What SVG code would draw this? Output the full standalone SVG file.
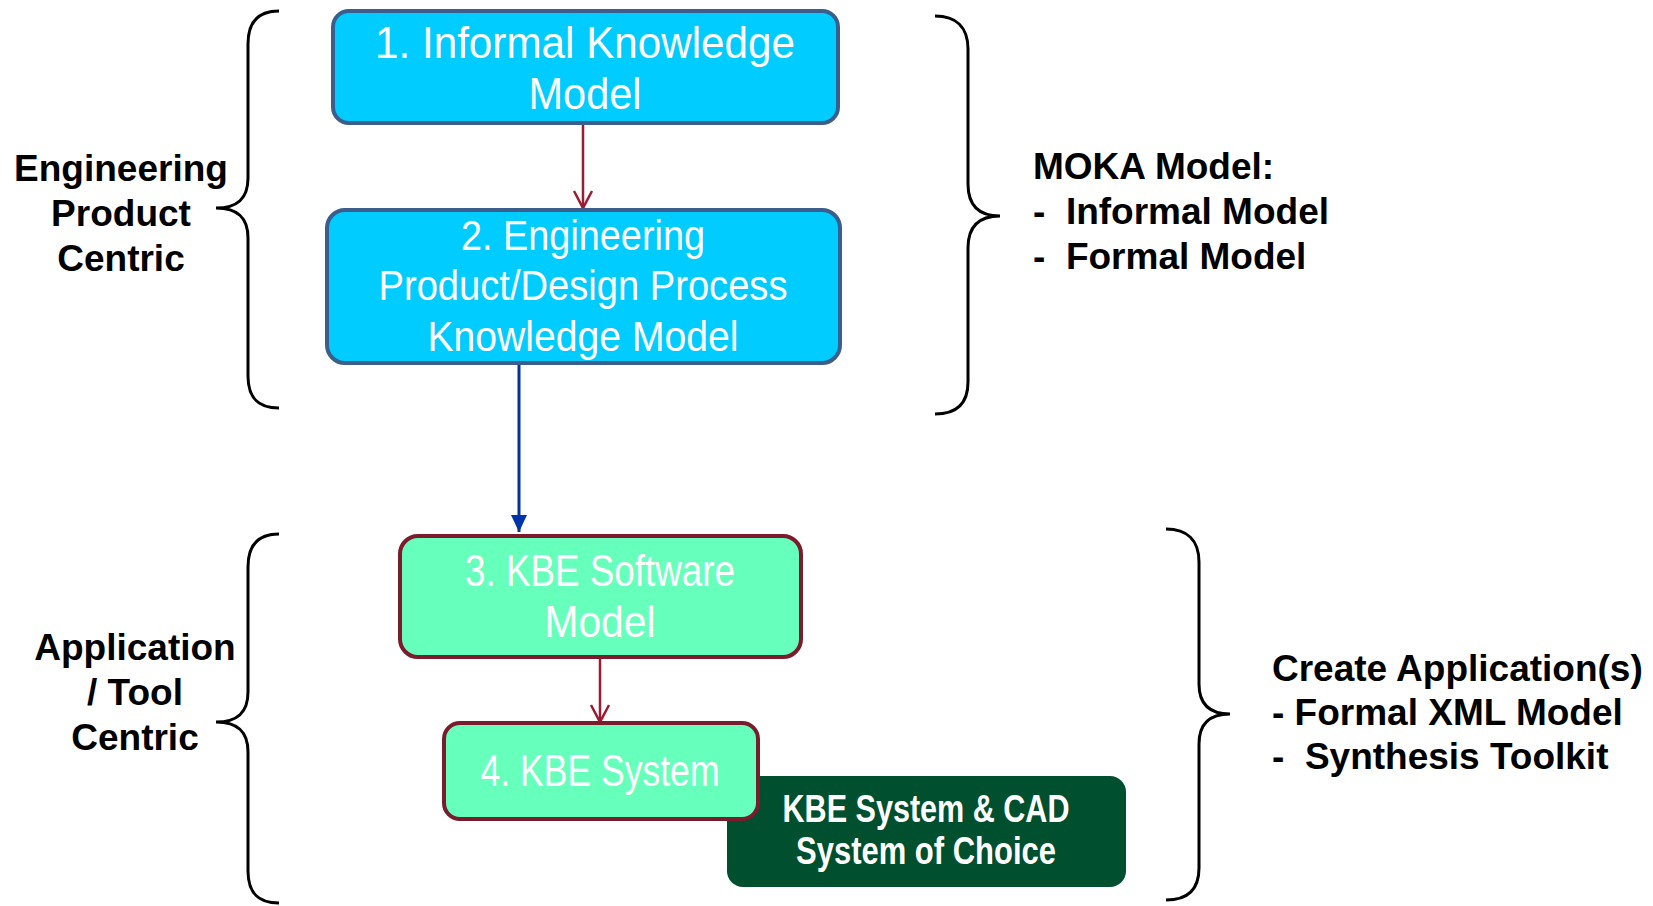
<svg xmlns="http://www.w3.org/2000/svg" width="1653" height="906" viewBox="0 0 1653 906">
<style>
.blue{fill:#00CCFF;stroke:#3B5E8C;stroke-width:4}
.mint{fill:#66FFBB;stroke:#7A1C2C;stroke-width:4}
.dark{fill:#004F2F}
.bt{font-family:"Liberation Sans",Arial,sans-serif;fill:#fff;text-anchor:middle}
.lbl{font-family:"Liberation Sans",Arial,sans-serif;font-weight:bold;font-size:37px;fill:#000}
.mid{text-anchor:middle}
.brace{fill:none;stroke:#000;stroke-width:3}
.red{stroke:#9B1B30;stroke-width:2.5;fill:none}
.bl{stroke:#0033AA;stroke-width:3;fill:none}
</style>
<defs>
<marker id="openRed" markerUnits="userSpaceOnUse" viewBox="-20 -12 24 24" markerWidth="24" markerHeight="24" refX="0" refY="0" orient="auto">
<path d="M-17,-9 L0,0 L-17,9" fill="none" stroke="#9B1B30" stroke-width="2.5"/>
</marker>
<marker id="fillBlue" markerUnits="userSpaceOnUse" viewBox="-19 -10 21 20" markerWidth="21" markerHeight="20" refX="0" refY="0" orient="auto">
<path d="M-17,-8 L0,0 L-17,8 Z" fill="#0033AA"/>
</marker>
</defs>

<g id="braces">
<path class="brace" d="M279,11 C258,11 248,22 248,44 L248,178 C248,198 238,208 216,208 C238,208 248,218 248,238 L248,376 C248,398 258,408 279,408"/>
<path class="brace" d="M935,16 C956,16 968,27 968,49 L968,184 C968,205 978,216 1000,216 C978,216 968,227 968,248 L968,382 C968,404 956,414 935,414"/>
<path class="brace" d="M279,534 C258,534 248,545 248,567 L248,692 C248,712 238,722 216,722 C238,722 248,732 248,752 L248,871 C248,893 258,903 279,903"/>
<path class="brace" d="M1166,529 C1187,529 1199,540 1199,562 L1199,684 C1199,704 1209,714 1230,714 C1209,714 1199,724 1199,744 L1199,868 C1199,890 1187,900 1166,900"/>
</g>

<g id="connectors">
<line class="red" x1="583" y1="123" x2="583" y2="208" marker-end="url(#openRed)"/>
<line class="bl" x1="519" y1="363" x2="519" y2="532" marker-end="url(#fillBlue)"/>
<line class="red" x1="600" y1="657" x2="600" y2="722" marker-end="url(#openRed)"/>
</g>

<g id="n1">
<rect class="blue" x="333" y="11" width="505" height="112" rx="16"/>
<text class="bt" font-size="44" x="585" y="58" textLength="420" lengthAdjust="spacingAndGlyphs">1. Informal Knowledge</text>
<text class="bt" font-size="44" x="585" y="109" textLength="113" lengthAdjust="spacingAndGlyphs">Model</text>
</g>

<g id="n2">
<rect class="blue" x="327" y="210" width="513" height="153" rx="18"/>
<text class="bt" font-size="42" x="583" y="250" textLength="244" lengthAdjust="spacingAndGlyphs">2. Engineering</text>
<text class="bt" font-size="42" x="583" y="300" textLength="409" lengthAdjust="spacingAndGlyphs">Product/Design Process</text>
<text class="bt" font-size="42" x="583" y="351" textLength="311" lengthAdjust="spacingAndGlyphs">Knowledge Model</text>
</g>

<g id="n5">
<rect class="dark" x="727" y="776" width="399" height="111" rx="16"/>
<text class="bt" font-size="38" font-weight="bold" x="926" y="822" textLength="287" lengthAdjust="spacingAndGlyphs">KBE System &amp; CAD</text>
<text class="bt" font-size="38" font-weight="bold" x="926" y="864" textLength="260" lengthAdjust="spacingAndGlyphs">System of Choice</text>
</g>

<g id="n3">
<rect class="mint" x="400" y="536" width="401" height="121" rx="18"/>
<text class="bt" font-size="44" x="600" y="586" textLength="270" lengthAdjust="spacingAndGlyphs">3. KBE Software</text>
<text class="bt" font-size="44" x="600" y="637" textLength="111" lengthAdjust="spacingAndGlyphs">Model</text>
</g>

<g id="n4">
<rect class="mint" x="444" y="723" width="314" height="96" rx="16"/>
<text class="bt" font-size="44" x="600" y="786" textLength="239" lengthAdjust="spacingAndGlyphs">4. KBE System</text>
</g>

<g id="label-eng">
<text class="lbl mid" x="121" y="181">Engineering</text>
<text class="lbl mid" x="121" y="226">Product</text>
<text class="lbl mid" x="121" y="271">Centric</text>
</g>

<g id="label-app">
<text class="lbl mid" x="135" y="660">Application</text>
<text class="lbl mid" x="135" y="705">/ Tool</text>
<text class="lbl mid" x="135" y="750">Centric</text>
</g>

<g id="label-moka">
<text class="lbl" x="1033" y="179">MOKA Model:</text>
<text class="lbl" x="1033" y="224" xml:space="preserve">-  Informal Model</text>
<text class="lbl" x="1033" y="269" xml:space="preserve">-  Formal Model</text>
</g>

<g id="label-create">
<text class="lbl" x="1272" y="681">Create Application(s)</text>
<text class="lbl" x="1272" y="725">- Formal XML Model</text>
<text class="lbl" x="1272" y="769" xml:space="preserve">-  Synthesis Toolkit</text>
</g>
</svg>
